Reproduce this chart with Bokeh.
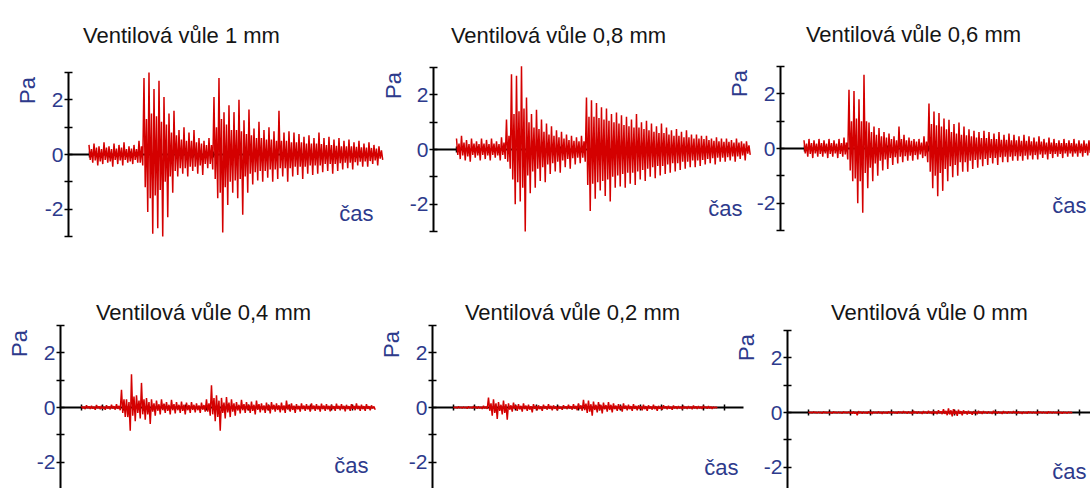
import math
from bokeh.plotting import figure
from bokeh.models import Range1d, LinearAxis, FixedTicker, Label
from bokeh.embed import file_html
from bokeh.resources import INLINE

# ---------------- data ----------------
TITLES = ["Ventilová vůle 1 mm", "Ventilová vůle 0,8 mm", "Ventilová vůle 0,6 mm",
          "Ventilová vůle 0,4 mm", "Ventilová vůle 0,2 mm", "Ventilová vůle 0 mm"]
Y_UNIT = "Pa"
X_UNIT = "čas"
Y_TICKS = [-2, 0, 2]
Y_TICK_LABELS = ["-2", "0", "2"]
Y_MINOR_TICKS = [-3, -1, 1, 3]
X_TICKS = list(range(0, 14))
DT = 0.24  # time between successive samples (time units)

# For each sample: peak swing up / down, and the dense inner swing up / down [Pa]
UPPER_1 = [.35, .4, .3, .45, .3, .4, .35, .45, .3, .35, .5, 2.8, 3.0, 2.4, 2.7, 2.1, 1.5, 1.6, 0.9, 1.0,
           0.8, 0.9, 0.6, 0.5, 0.6, 2.1, 2.8, 1.55, 1.8, 1.55, 2.0, 1.25, 1.65, 0.95, 1.2, 0.9, 1.0, 0.85,
           1.6, 0.8, 0.85, 0.8, 0.75, 0.65, 0.7, 0.6, 0.8, 0.6, 0.65, 0.55, 0.6, 0.5, 0.55, 0.45, 0.5,
           0.4, 0.45, 0.35, 0.3]
LOWER_1 = [-.3, -.4, -.35, -.3, -.45, -.35, -.4, -.3, -.35, -.3, -.4, -2.1, -2.9, -2.7, -3.0, -2.3, -1.4,
           -0.8, -0.7, -0.8, -0.6, -0.7, -0.75, -0.5, -0.55, -1.6, -2.85, -1.85, -1.4, -1.6, -2.2, -1.4,
           -1.1, -0.95, -1.0, -0.85, -1.0, -0.9, -0.8, -1.0, -0.8, -0.75, -0.9, -0.7, -0.75, -0.7, -0.65,
           -0.6, -0.7, -0.6, -0.55, -0.5, -0.55, -0.4, -0.45, -0.45, -0.35, -0.4, -0.2]
CORE_UP_1 = [.2, .25, .2, .25, .2, .22, .25, .2, .22, .2, .3, 1.3, 1.5, 1.4, 1.2, 1.1, .8, .7, .55, .5,
             .5, .45, .4, .35, .35, 1.0, 1.3, 1.1, .9, .9, .85, .75, .7, .6, .6, .55, .55, .5, .5, .5,
             .45, .45, .45, .4, .4, .4, .38, .35, .35, .32, .3, .3, .3, .28, .26, .25, .24, .22, .15]
CORE_LO_1 = [-.2, -.22, -.25, -.2, -.25, -.2, -.22, -.2, -.25, -.2, -.3, -1.2, -1.6, -1.5, -1.3, -1.0, -.8,
             -.6, -.5, -.5, -.45, -.45, -.4, -.35, -.35, -.9, -1.4, -1.2, -1.0, -.95, -.9, -.8, -.7, -.65,
             -.6, -.6, -.55, -.55, -.5, -.5, -.5, -.45, -.45, -.45, -.4, -.4, -.4, -.35, -.35, -.35, -.32,
             -.3, -.3, -.28, -.26, -.25, -.24, -.22, -.15]

UPPER_2 = [.4, .5, .35, .4, .3, .4, .35, .4, .3, .45, 1.1, 2.75, 2.7, 3.05, 1.9, 1.3, 1.45, 1.1, .95, .85,
           .7, .65, .55, .5, .45, .5, 1.9, 1.8, 1.7, 1.55, 1.5, 1.3, 1.35, 1.25, 1.2, 1.1, 1.3, 1.0, 1.05,
           .95, .85, .95, .8, .7, .75, .65, .7, .55, .55, .5, .5, .4, .45, .4, .4, .35, .4, .3, .3]
LOWER_2 = [-.35, -.4, -.45, -.3, -.4, -.35, -.4, -.3, -.4, -.35, -.7, -2.0, -1.9, -3.0, -1.6, -1.4, -1.15,
           -1.2, -.9, -.8, -.85, -.65, -.7, -.55, -.5, -.45, -2.25, -1.8, -1.5, -1.7, -1.9, -1.4, -1.35,
           -1.4, -1.25, -1.3, -1.1, -1.15, -1.0, -1.05, -.95, -.9, -.85, -.8, -.75, -.7, -.65, -.65, -.6,
           -.55, -.5, -.55, -.45, -.45, -.4, -.45, -.35, -.4, -.2]
CORE_UP_2 = [.22, .25, .2, .22, .2, .22, .2, .22, .2, .25, .5, 1.3, 1.4, 1.5, 1.0, .8, .75, .65, .55, .5,
             .45, .4, .35, .32, .3, .3, 1.2, 1.2, 1.15, 1.1, 1.05, 1.0, .95, .9, .85, .8, .8, .75, .7, .65,
             .6, .6, .55, .5, .5, .45, .45, .4, .4, .38, .35, .32, .3, .28, .28, .25, .25, .22, .15]
CORE_LO_2 = [-.2, -.22, -.25, -.2, -.22, -.2, -.22, -.2, -.22, -.2, -.45, -1.1, -1.2, -1.4, -.95, -.8, -.7,
             -.65, -.55, -.5, -.45, -.4, -.35, -.32, -.3, -.3, -1.3, -1.25, -1.2, -1.15, -1.1, -1.0, -.95,
             -.9, -.85, -.85, -.8, -.75, -.7, -.65, -.6, -.6, -.55, -.5, -.5, -.45, -.45, -.4, -.4, -.38,
             -.35, -.32, -.3, -.3, -.28, -.25, -.25, -.22, -.15]

UPPER_3 = [.3, .35, .3, .35, .3, .35, .3, .35, .4, 2.15, 2.1, 1.8, 2.7, .95, .8, .75, .6, .55, .45, .8,
           .5, .4, .35, .35, .45, 1.65, 1.35, 1.3, 1.1, 1.05, .9, .95, .8, .7, .65, .6, .65, .6, .55, .6,
           .5, .55, .5, .45, .5, .45, .4, .45, .35, .4, .35, .3, .35, .3, .35, .3, .3, .3, .25]
LOWER_3 = [-.3, -.35, -.3, -.3, -.35, -.3, -.35, -.3, -.4, -1.2, -2.0, -2.35, -1.45, -1.2, -1.0, -.8, -.75,
           -.6, -.55, -.5, -.45, -.45, -.4, -.35, -.5, -1.45, -1.75, -1.55, -1.2, -1.05, -1.0, -.85, -.85,
           -.75, -.7, -.65, -.6, -.55, -.6, -.5, -.5, -.45, -.45, -.45, -.4, -.4, -.4, -.35, -.4, -.35,
           -.3, -.35, -.3, -.3, -.3, -.3, -.25, -.3, -.25]
CORE_UP_3 = [.18, .2, .18, .2, .18, .2, .18, .2, .22, 1.0, 1.1, 1.0, 1.0, .6, .5, .45, .4, .35, .3, .35,
             .3, .28, .25, .22, .25, .9, .85, .8, .7, .6, .55, .5, .48, .45, .4, .38, .38, .35, .35, .32,
             .32, .3, .3, .28, .28, .26, .25, .25, .22, .22, .2, .2, .2, .2, .18, .18, .18, .17, .15]
CORE_LO_3 = [-.18, -.2, -.18, -.2, -.18, -.2, -.18, -.2, -.22, -.8, -1.1, -1.2, -.9, -.7, -.55, -.45, -.4,
             -.35, -.32, -.3, -.28, -.26, -.24, -.22, -.28, -.85, -1.0, -.9, -.75, -.65, -.6, -.5, -.5,
             -.45, -.42, -.4, -.38, -.35, -.35, -.32, -.3, -.3, -.28, -.28, -.26, -.25, -.24, -.22, -.22,
             -.2, -.2, -.2, -.18, -.18, -.18, -.17, -.16, -.16, -.15]

UPPER_4 = [.05, .08, .06, .09, .06, .08, .1, .12, .65, .3, 1.22, .45, .9, .35, .3, .25, .3, .2, .28, .2,
           .22, .18, .2, .15, .18, .3, .81, .45, .35, .38, .3, .2, .28, .2, .22, .25, .15, .18, .2, .15,
           .18, .25, .15, .12, .15, .12, .15, .12, .14, .12, .1, .14, .12, .1, .12, .15, .1, .12, .08]
LOWER_4 = [-.06, -.05, -.08, -.06, -.08, -.07, -.08, -.1, -.35, -.85, -.5, -.4, -.45, -.6, -.3, -.25, -.2,
           -.25, -.22, -.2, -.25, -.2, -.18, -.2, -.15, -.3, -.5, -.85, -.4, -.35, -.3, -.22, -.2, -.2,
           -.25, -.18, -.2, -.22, -.15, -.18, -.2, -.15, -.2, -.15, -.12, -.15, -.12, -.15, -.12, -.14,
           -.12, -.1, -.14, -.12, -.1, -.12, -.12, -.1, -.08]
CORE_UP_4 = [.03, .04, .03, .04, .03, .04, .05, .06, .3, .2, .4, .25, .3, .2, .15, .12, .14, .1, .12, .1,
             .1, .09, .1, .08, .09, .15, .35, .25, .18, .18, .15, .1, .12, .1, .1, .12, .08, .09, .1, .08,
             .08, .1, .07, .06, .07, .06, .07, .06, .07, .06, .05, .06, .06, .05, .06, .06, .05, .05, .04]
CORE_LO_4 = [-.03, -.03, -.04, -.03, -.04, -.04, -.04, -.05, -.2, -.35, -.3, -.2, -.25, -.25, -.15, -.12,
             -.1, -.12, -.1, -.1, -.12, -.1, -.09, -.1, -.08, -.15, -.25, -.35, -.2, -.18, -.15, -.11, -.1,
             -.1, -.12, -.09, -.1, -.1, -.08, -.09, -.1, -.08, -.09, -.07, -.06, -.07, -.06, -.07, -.06,
             -.07, -.06, -.05, -.06, -.06, -.05, -.06, -.06, -.05, -.04]

UPPER_5 = [.03, .04, .03, .04, .05, .04, .06, .36, .3, .2, .25, .15, .18, .12, .15, .1, .12, .08, .1, .12,
           .08, .06, .08, .1, .12, .15, .28, .25, .22, .2, .18, .2, .15, .12, .15, .1, .12, .08, .1, .08,
           .1, .06, .08, .06, .07, .05, .06, .05, .07, .05, .06, .05, .03]
LOWER_5 = [-.03, -.03, -.04, -.03, -.04, -.05, -.05, -.3, -.42, -.25, -.45, -.15, -.12, -.15, -.12, -.18,
           -.1, -.12, -.08, -.1, -.1, -.08, -.06, -.08, -.1, -.12, -.2, -.3, -.18, -.22, -.15, -.18, -.12,
           -.15, -.1, -.12, -.1, -.1, -.12, -.08, -.12, -.08, -.06, -.08, -.05, -.06, -.05, -.06, -.05,
           -.05, -.04, -.05, -.03]
CORE_UP_5 = [.02, .02, .02, .02, .03, .02, .03, .15, .15, .1, .12, .08, .08, .06, .07, .05, .06, .04, .05,
             .06, .04, .03, .04, .05, .06, .08, .14, .12, .1, .1, .09, .1, .07, .06, .07, .05, .06, .04,
             .05, .04, .05, .03, .04, .03, .04, .03, .03, .03, .04, .03, .03, .03, .02]
CORE_LO_5 = [-.02, -.02, -.02, -.02, -.02, -.03, -.03, -.12, -.2, -.12, -.2, -.08, -.06, -.07, -.06, -.08,
             -.05, -.06, -.04, -.05, -.05, -.04, -.03, -.04, -.05, -.06, -.1, -.15, -.09, -.1, -.07, -.09,
             -.06, -.07, -.05, -.06, -.05, -.05, -.06, -.04, -.06, -.04, -.03, -.04, -.03, -.03, -.03,
             -.03, -.03, -.03, -.02, -.03, -.02]

UPPER_6 = [.02, .03, .02, .03, .02, .03, .02, .03, .03, .04, .05, .03, .04, .03, .04, .03, .04, .03, .04,
           .05, .04, .06, .04, .05, .06, .05, .08, .12, .15, .12, .1, .08, .06, .05, .06, .05, .04, .06,
           .04, .05, .04, .05, .04, .03, .04, .03, .04, .03, .04, .03, .03, .02, .02]
LOWER_6 = [-.02, -.02, -.03, -.02, -.03, -.02, -.03, -.02, -.04, -.1, -.04, -.04, -.05, -.03, -.05, -.04,
           -.03, -.04, -.03, -.04, -.05, -.04, -.05, -.04, -.05, -.06, -.06, -.1, -.14, -.12, -.1, -.07,
           -.08, -.06, -.05, -.04, -.05, -.04, -.05, -.04, -.03, -.04, -.05, -.04, -.03, -.04, -.03, -.04,
           -.03, -.03, -.04, -.03, -.02]
CORE_UP_6 = [.01, .015, .01, .015, .01, .015, .01, .015, .015, .02, .025, .015, .02, .015, .02, .015, .02,
             .015, .02, .025, .02, .03, .02, .025, .03, .03, .04, .06, .08, .06, .05, .04, .03, .025, .03,
             .025, .02, .03, .02, .025, .02, .025, .02, .015, .02, .015, .02, .015, .02, .015, .015, .01,
             .01]
CORE_LO_6 = [-.01, -.01, -.015, -.01, -.015, -.01, -.015, -.01, -.02, -.04, -.02, -.02, -.025, -.015,
             -.025, -.02, -.015, -.02, -.015, -.02, -.025, -.02, -.025, -.02, -.025, -.03, -.03, -.05,
             -.07, -.06, -.05, -.035, -.04, -.03, -.025, -.02, -.025, -.02, -.025, -.02, -.015, -.02,
             -.025, -.02, -.015, -.02, -.015, -.02, -.015, -.015, -.02, -.015, -.01]

SIGNALS = [(UPPER_1, CORE_LO_1, CORE_UP_1, LOWER_1),
           (UPPER_2, CORE_LO_2, CORE_UP_2, LOWER_2),
           (UPPER_3, CORE_LO_3, CORE_UP_3, LOWER_3),
           (UPPER_4, CORE_LO_4, CORE_UP_4, LOWER_4),
           (UPPER_5, CORE_LO_5, CORE_UP_5, LOWER_5),
           (UPPER_6, CORE_LO_6, CORE_UP_6, LOWER_6)]

# ---------------- layout (page pixels) ----------------
W, H = 1090, 488
PX_PER_T = 20.83
PX_PER_PA = 27.33
LAYOUT = [
    dict(axis_x=68, t0_x=88.5, zero_y=154, x_end=380, title=(181, 35), pa=(27, 90), cas=(373, 213, "right")),
    dict(axis_x=433, t0_x=456, zero_y=149, x_end=747, title=(558, 35), pa=(392.5, 85), cas=(742, 208, "right")),
    dict(axis_x=780, t0_x=803.5, zero_y=148, x_end=1095, title=(913, 34), pa=(739, 83), cas=(1086, 205, "right")),
    dict(axis_x=60, t0_x=81, zero_y=407, x_end=372, title=(203, 312), pa=(19, 343), cas=(368, 465, "right")),
    dict(axis_x=432, t0_x=453, zero_y=407, x_end=743, title=(572, 312), pa=(390.5, 344), cas=(738, 467, "right")),
    dict(axis_x=787, t0_x=808, zero_y=412, x_end=1095, title=(929, 312), pa=(745.5, 347), cas=(1086, 471, "right")),
]

RED = "#D40000"
BLUE = "#2D3A8C"
INK = "#151515"
FONT = "Liberation Sans"

p = figure(width=W, height=H, x_range=Range1d(0, W), y_range=Range1d(0, H),
           x_axis_type=None, y_axis_type=None, toolbar_location=None,
           output_backend="svg", min_border=0, outline_line_color=None)
p.background_fill_color = "white"
p.border_fill_color = "white"


def cy(py):
    return H - py


extra_x, extra_y = {}, {}
for k, g in enumerate(LAYOUT, start=1):
    t0, z = g["t0_x"], g["zero_y"]
    extra_x[f"x{k}"] = Range1d((0 - t0) / PX_PER_T, (W - t0) / PX_PER_T)
    extra_y[f"y{k}"] = Range1d((z - H) / PX_PER_PA, z / PX_PER_PA)
p.extra_x_ranges = extra_x
p.extra_y_ranges = extra_y

for k, (g, sig, title) in enumerate(zip(LAYOUT, SIGNALS, TITLES), start=1):
    xn, yn = f"x{k}", f"y{k}"
    axis_t = (g["axis_x"] - g["t0_x"]) / PX_PER_T
    end_t = (g["x_end"] - g["t0_x"]) / PX_PER_T

    # time axis through zero
    xax = LinearAxis(x_range_name=xn, y_range_name=yn, fixed_location=0,
                     bounds=(axis_t, end_t),
                     ticker=FixedTicker(ticks=X_TICKS, minor_ticks=[]),
                     major_label_overrides={t: "" for t in X_TICKS})
    xax.axis_line_color = "black"
    xax.axis_line_width = 2
    xax.major_tick_in = 3
    xax.major_tick_out = 3
    xax.major_tick_line_width = 1.5
    xax.major_tick_line_color = "black"
    xax.minor_tick_line_color = None
    xax.level = "underlay"
    p.add_layout(xax, "below")

    # pressure axis
    yax = LinearAxis(x_range_name=xn, y_range_name=yn, fixed_location=axis_t,
                     bounds=(-3, 3),
                     ticker=FixedTicker(ticks=Y_TICKS, minor_ticks=Y_MINOR_TICKS),
                     major_label_overrides=dict(zip(Y_TICKS, Y_TICK_LABELS)))
    yax.axis_line_color = "black"
    yax.axis_line_width = 2
    yax.major_tick_in = 4
    yax.major_tick_out = 4
    yax.minor_tick_in = 4
    yax.minor_tick_out = 4
    yax.major_tick_line_width = 1.5
    yax.minor_tick_line_width = 1.5
    yax.major_tick_line_color = "black"
    yax.minor_tick_line_color = "black"
    yax.major_label_standoff = 1
    yax.major_label_text_color = BLUE
    yax.major_label_text_font = FONT
    yax.major_label_text_font_size = "21px"
    p.add_layout(yax, "left")

    # signal: each sample swings peak-up, inner-down, inner-up, peak-down
    xs, ys = [], []
    for i, vals in enumerate(zip(*sig)):
        for j, v in enumerate(vals):
            xs.append(i * DT + j * DT / 4)
            ys.append(v)
    p.line(xs, ys, x_range_name=xn, y_range_name=yn, line_color=RED, line_width=1.5,
           line_join="bevel")

    # texts
    tx, ty = g["title"]
    p.add_layout(Label(x=tx, y=cy(ty), text=title, text_align="center",
                       text_baseline="alphabetic", text_font=FONT, text_font_size="22px",
                       text_color=INK))
    px_, py_ = g["pa"]
    p.add_layout(Label(x=px_, y=cy(py_), text=Y_UNIT, angle=math.pi / 2,
                       text_align="center", text_baseline="middle", text_font=FONT,
                       text_font_size="22px", text_color=BLUE))
    qx, qy, qa = g["cas"]
    p.add_layout(Label(x=qx, y=cy(qy), text=X_UNIT, text_align=qa,
                       text_baseline="alphabetic", text_font=FONT, text_font_size="22px",
                       text_color=BLUE))

open("out.html", "w").write(file_html(p, INLINE))
